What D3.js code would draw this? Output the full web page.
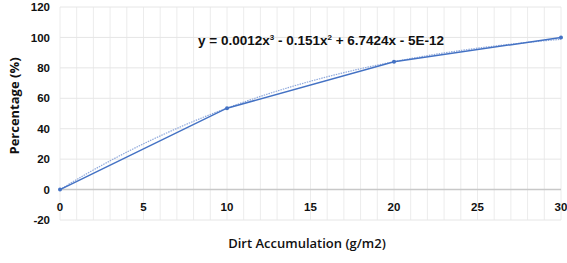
<!DOCTYPE html>
<html>
<head>
<meta charset="utf-8">
<script src="https://cdn.jsdelivr.net/npm/d3@7"></script>
<style>
  body { margin: 0; background: #fff; }
  svg { display: block; }
</style>
</head>
<body>
<div id="chart"></div>
<script>
// data
var dirt = [0, 10, 20, 30];
var percent = [0, 53.5, 84, 100];
// polynomial trendline coefficients as printed on the chart (x^3, x^2, x, 1)
var trendCoef = [0.0012, -0.151, 6.7424, -5e-12];
var xTicks = [0, 5, 10, 15, 20, 25, 30];
var yTicks = [-20, 0, 20, 40, 60, 80, 100, 120];

const W = 567, H = 263;
const margin = { top: 7, right: 6, bottom: 43, left: 60 },
  width = W - margin.left - margin.right,
  height = H - margin.top - margin.bottom;

const svg = d3
  .select("#chart")
  .append("svg")
  .attr("width", W)
  .attr("height", H);

const g = svg.append("g").attr("transform", `translate(${margin.left}, ${margin.top})`);

const x = d3.scaleLinear().domain([0, 30]).range([0, width]);
const y = d3.scaleLinear().domain([-20, 120]).range([height, 0]);

// minor vertical grid every 1 unit
g.append("g")
  .selectAll("line")
  .data(d3.range(0, 31, 1))
  .enter()
  .append("line")
  .attr("x1", (d) => x(d))
  .attr("x2", (d) => x(d))
  .attr("y1", 0)
  .attr("y2", height)
  .attr("stroke", "#ececec")
  .attr("stroke-width", 1);

// horizontal grid
g.append("g")
  .selectAll("line")
  .data(yTicks)
  .enter()
  .append("line")
  .attr("x1", 0)
  .attr("x2", width)
  .attr("y1", (d) => y(d))
  .attr("y2", (d) => y(d))
  .attr("stroke", (d) => (d == 0 ? "#c8c8c8" : "#e6e6e6"))
  .attr("stroke-width", (d) => (d == 0 ? 1.5 : 1));

// y tick labels
g.append("g")
  .selectAll("text")
  .data(yTicks)
  .enter()
  .append("text")
  .attr("x", -10)
  .attr("y", (d) => y(d))
  .attr("dy", "0.36em")
  .attr("text-anchor", "end")
  .attr("font-family", "Liberation Sans, Arial, sans-serif")
  .attr("font-weight", "bold")
  .attr("font-size", "11.5px")
  .attr("fill", "#111")
  .text((d) => d);

// x tick labels, sitting just under the zero line
g.append("g")
  .selectAll("text")
  .data(xTicks)
  .enter()
  .append("text")
  .attr("x", (d) => x(d))
  .attr("y", y(0) + 21)
  .attr("text-anchor", "middle")
  .attr("font-family", "Liberation Sans, Arial, sans-serif")
  .attr("font-weight", "bold")
  .attr("font-size", "11.5px")
  .attr("fill", "#111")
  .text((d) => d);

// trendline from the printed coefficients
var trend = d3.range(0, 30.01, 0.25).map(function (v) {
  return [v, trendCoef[0] * v * v * v + trendCoef[1] * v * v + trendCoef[2] * v + trendCoef[3]];
});
g.append("path")
  .datum(trend)
  .attr("fill", "none")
  .attr("stroke", "#8fa9dc")
  .attr("stroke-width", 1.2)
  .attr("stroke-dasharray", "1.5,1")
  .attr("d", d3.line().x((d) => x(d[0])).y((d) => y(d[1])));

// data line
var pts = dirt.map((d, i) => [d, percent[i]]);
g.append("path")
  .datum(pts)
  .attr("fill", "none")
  .attr("stroke", "#4472c4")
  .attr("stroke-width", 1.5)
  .attr("d", d3.line().x((d) => x(d[0])).y((d) => y(d[1])));

g.selectAll(".pt")
  .data(pts)
  .enter()
  .append("circle")
  .attr("class", "pt")
  .attr("cx", (d) => x(d[0]))
  .attr("cy", (d) => y(d[1]))
  .attr("r", 2)
  .attr("fill", "#4472c4");

// equation label
var eq = g.append("text")
  .attr("x", 138)
  .attr("y", 38)
  .attr("font-family", "Liberation Sans, Arial, sans-serif")
  .attr("font-weight", "bold")
  .attr("font-size", "13.5px")
  .attr("fill", "#111");
eq.append("tspan").text("y = 0.0012x");
eq.append("tspan").attr("font-size", "8px").attr("dy", "-5").text("3");
eq.append("tspan").attr("dy", "5").text(" - 0.151x");
eq.append("tspan").attr("font-size", "8px").attr("dy", "-5").text("2");
eq.append("tspan").attr("dy", "5").text(" + 6.7424x - 5E-12");

// axis titles
svg.append("text")
  .attr("transform", "translate(19, 106) rotate(-90)")
  .attr("text-anchor", "middle")
  .attr("font-family", "Open Sans, sans-serif")
  .attr("font-weight", "bold")
  .attr("font-size", "13px")
  .attr("fill", "#111")
  .text("Percentage (%)");

svg.append("text")
  .attr("x", 307)
  .attr("y", 248)
  .attr("text-anchor", "middle")
  .attr("font-family", "Open Sans, sans-serif")
  .attr("font-weight", "600")
  .attr("font-size", "13px")
  .attr("fill", "#111")
  .text("Dirt Accumulation (g/m2)");
</script>
</body>
</html>
